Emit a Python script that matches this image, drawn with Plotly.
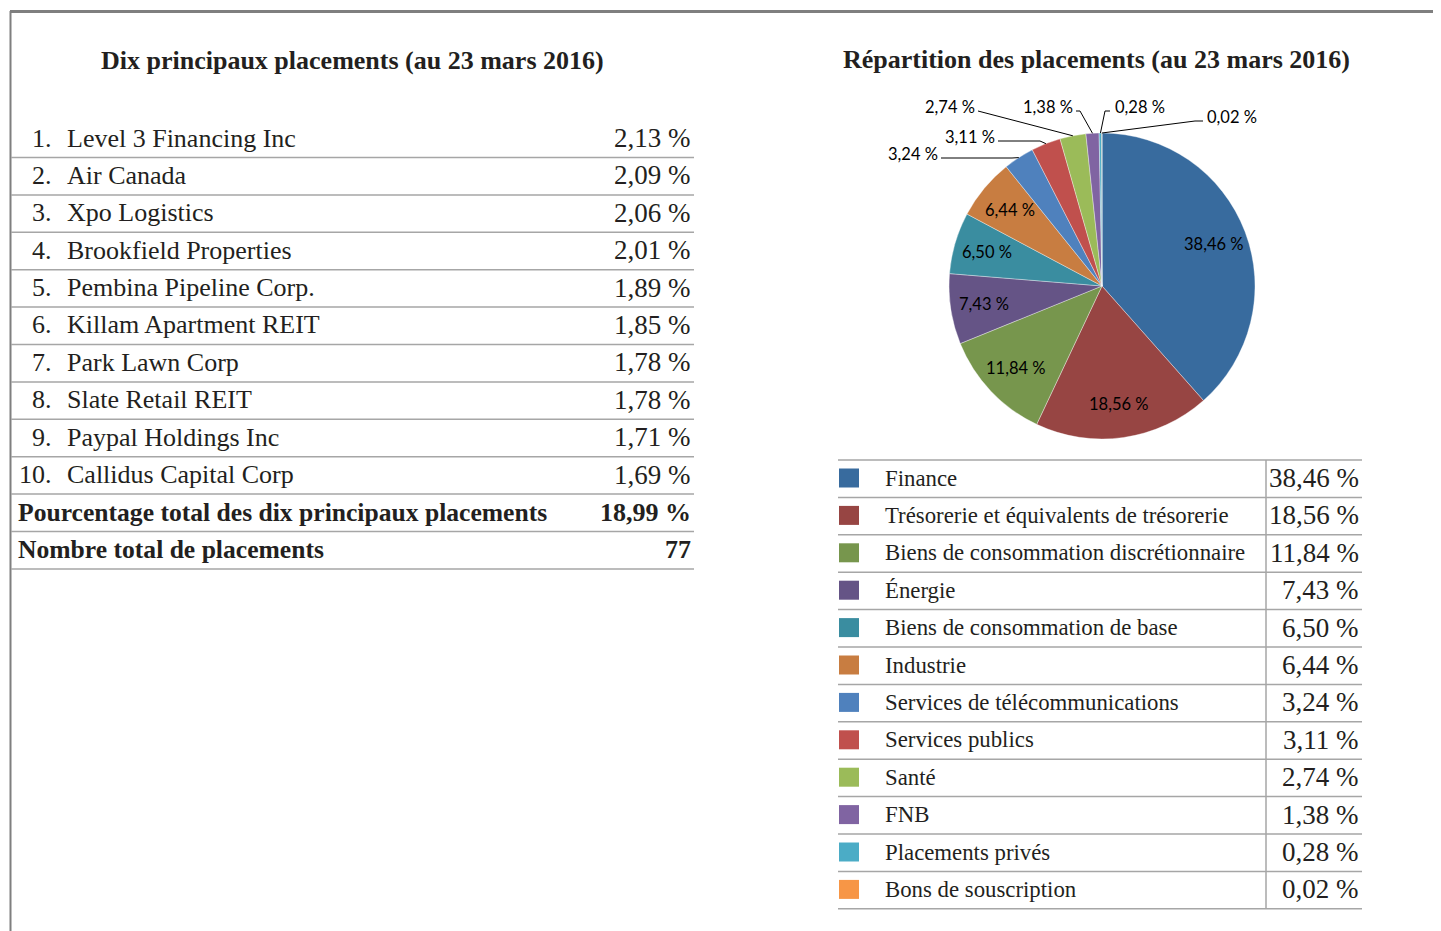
import math
import plotly.graph_objects as go

# reference canvas is 1441x931; the page body adds an 8 px margin, so the
# figure is drawn 8 px smaller and every reference coordinate is shifted by 8
OFF = 8
W, H = 1441 - OFF, 931 - OFF

# ---------------- data ----------------
left_title = "Dix principaux placements (au 23 mars 2016)"
right_title = "Répartition des placements (au 23 mars 2016)"

top_names = ["Level 3 Financing Inc", "Air Canada", "Xpo Logistics", "Brookfield Properties",
             "Pembina Pipeline Corp.", "Killam Apartment REIT", "Park Lawn Corp",
             "Slate Retail REIT", "Paypal Holdings Inc", "Callidus Capital Corp"]
top_values = [2.13, 2.09, 2.06, 2.01, 1.89, 1.85, 1.78, 1.78, 1.71, 1.69]
total_label = "Pourcentage total des dix principaux placements"
total_value = 18.99
count_label = "Nombre total de placements"
count_value = 77

sectors = ["Finance", "Trésorerie et équivalents de trésorerie",
           "Biens de consommation discrétionnaire", "Énergie",
           "Biens de consommation de base", "Industrie",
           "Services de télécommunications", "Services publics", "Santé", "FNB",
           "Placements privés", "Bons de souscription"]
sector_values = [38.46, 18.56, 11.84, 7.43, 6.50, 6.44, 3.24, 3.11, 2.74, 1.38, 0.28, 0.02]
sector_colors = ["#386b9e", "#974543", "#77964d", "#655486", "#3a8da0", "#c87d41",
                 "#4f81bd", "#c0504d", "#9bbb59", "#8064a2", "#4bacc6", "#f79646"]

# ---------------- helpers ----------------
def px(x):
    return (x - OFF) / W

def py(y):
    return 1 - (y - OFF) / H

def fr(v):
    return f"{v:.2f}".replace(".", ",") + " %"

SERIF = "Liberation Serif"
SANS = "Lato"
TXT = "#231f20"
GRID = "#a6a6a6"

annotations = []
shapes = []

def text(x, y, s, size, anchor="left", bold=False, font=SERIF, color=TXT):
    annotations.append(dict(
        x=px(x), y=py(y), xref="paper", yref="paper", text=(f"<b>{s}</b>" if bold else s),
        showarrow=False, xanchor=anchor, yanchor="middle",
        font=dict(family=font, size=size, color=color)))

def line(x0, y0, x1, y1, color=GRID, width=1.5):
    shapes.append(dict(type="line", xref="paper", yref="paper",
                       x0=px(x0), y0=py(y0), x1=px(x1), y1=py(y1),
                       line=dict(color=color, width=width)))

# frame
line(10, 11.5, 1441, 11.5, color="#7f7f7f", width=3)
line(10.5, 11, 10.5, 931, color="#7f7f7f", width=2)

# ---------------- left table ----------------
text(352, 60, left_title, 26, anchor="center", bold=True)
row_h = 37.4
y0 = 138
for i, (n, v) in enumerate(zip(top_names, top_values)):
    yc = y0 + i * row_h
    text(54, yc, f"{i + 1}.", 26, anchor="right")
    text(65, yc, n, 26)
    text(693, yc, fr(v), 27, anchor="right")
yc = y0 + 10 * row_h
text(16, yc, total_label, 25.6, bold=True)
text(693, yc, fr(total_value), 26, anchor="right", bold=True)
yc = y0 + 11 * row_h
text(16, yc, count_label, 25.6, bold=True)
text(693, yc, str(count_value), 26, anchor="right", bold=True)
for i in range(12):
    yl = 157.5 + i * row_h
    line(11, yl, 694, yl)

# ---------------- right: pie ----------------
text(1096, 59, right_title, 26, anchor="center", bold=True)
cx, cy, R = 1102, 286, 153
fig = go.Figure()
fig.add_trace(go.Pie(
    labels=sectors, values=sector_values, sort=False, direction="clockwise", rotation=0,
    marker=dict(colors=sector_colors, line=dict(color="rgba(255,255,255,0.6)", width=0.6)),
    textinfo="none", hoverinfo="label+percent", showlegend=False,
    domain=dict(x=[px(cx - R), px(cx + R)], y=[py(cy + R), py(cy - R)])))

total = sum(sector_values)
cum = 0
mids = []
for v in sector_values:
    mids.append(2 * math.pi * (cum + v / 2) / total)
    cum += v

# inside labels for the six largest slices
for i in range(6):
    th = mids[i]
    r = 0.78 * R
    text(cx + r * math.sin(th), cy - r * math.cos(th), fr(sector_values[i]), 16.5,
         anchor="center", font=SANS, color="#000000")

# outside labels with leader lines: (text x, text y, anchor, line start x, elbow x)
outside = {
    6: (940, 154, "right", 941, 1012),
    7: (997, 137, "right", 998, 1040),
    8: (977, 107, "right", 978, 978),
    9: (1075, 107, "right", 1076, 1080),
    10: (1113, 107, "left", 1110, 1105),
    11: (1205, 117, "left", 1203, 1195),
}
for i, (tx, ty, anc, lx, ex) in outside.items():
    th = mids[i]
    ex_pt = (cx + R * math.sin(th), cy - R * math.cos(th))
    text(tx, ty, fr(sector_values[i]), 16.5, anchor=anc, font=SANS, color="#000000")
    ly = ty + 4
    shapes.append(dict(type="path", xref="paper", yref="paper",
                       path=f"M {px(lx)},{py(ly)} L {px(ex)},{py(ly)} L {px(ex_pt[0])},{py(ex_pt[1])}",
                       line=dict(color="#000000", width=1)))

# ---------------- right: legend table ----------------
lrow0 = 478
for i, (s, v, c) in enumerate(zip(sectors, sector_values, sector_colors)):
    yc = lrow0 + i * row_h
    shapes.append(dict(type="rect", xref="paper", yref="paper",
                       x0=px(839), x1=px(859), y0=py(yc - 9.5), y1=py(yc + 9.5),
                       fillcolor=c, line=dict(width=0)))
    text(883, yc, s, 22.8)
    text(1361, yc, fr(v), 27, anchor="right")
for i in range(13):
    yl = 460 + i * row_h
    line(838, yl, 1362, yl)
line(1266, 460, 1266, 460 + 12 * row_h)

fig.update_layout(
    width=W, height=H, margin=dict(l=0, r=0, t=0, b=0),
    paper_bgcolor="white", plot_bgcolor="white",
    annotations=annotations, shapes=shapes,
    xaxis=dict(visible=False), yaxis=dict(visible=False))

fig.write_html("out.html")
